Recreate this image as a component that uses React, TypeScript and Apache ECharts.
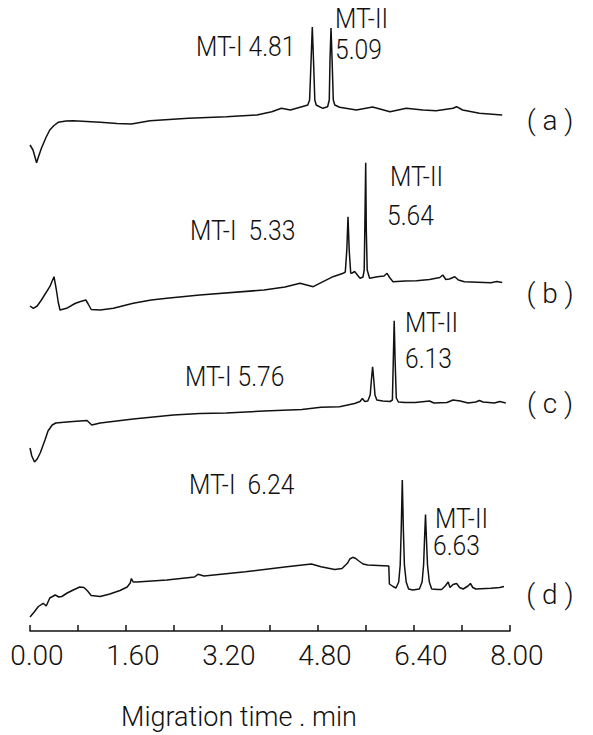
import React, { useEffect, useRef } from 'react';
import * as echarts from 'echarts';

// Migration time (min) vs detector response (stacked, arbitrary units)
const traceA: [number, number][] = [
  [0, 486], [0.05, 481], [0.11, 468.3], [0.14, 474], [0.19, 482.7], [0.27, 494], [0.33, 501],
  [0.4, 505.5], [0.47, 508.7], [0.6, 510], [0.72, 510.3], [1.17, 508.7], [1.45, 507.5], [1.69, 507],
  [2.0, 510.3], [2.64, 512.7], [3.27, 514.3], [3.78, 516], [4.03, 519.3], [4.19, 522.7], [4.34, 521],
  [4.53, 524.3], [4.63, 526], [4.66, 531], [4.685, 571], [4.705, 604], [4.725, 571], [4.747, 531],
  [4.77, 526], [4.88, 522.7], [4.96, 524.3], [4.988, 531], [5.0, 571], [5.017, 603], [5.035, 571],
  [5.055, 531], [5.08, 526], [5.16, 523.7], [5.44, 521], [5.71, 524], [6.0, 519.3], [6.27, 522.7],
  [6.55, 521], [6.77, 520.3], [7.05, 522.7], [7.11, 524.3], [7.21, 521], [7.49, 517.7], [7.87, 516],
];

const traceB: [number, number][] = [
  [0, 325], [0.055, 322.7], [0.12, 325], [0.19, 331], [0.33, 344.3], [0.4, 354.3], [0.44, 341],
  [0.47, 329], [0.5, 321], [0.61, 322.7], [0.75, 327.5], [0.83, 329.3], [0.93, 331], [0.97, 327],
  [1.02, 321.5], [1.17, 321], [1.39, 322.7], [1.72, 327.7], [2.02, 331], [2.28, 332.7], [2.83, 336],
  [3.9, 341], [4.25, 344], [4.5, 347.7], [4.72, 344.3], [5.05, 354.3], [5.22, 357.7], [5.255, 359],
  [5.28, 381], [5.3, 414.3], [5.32, 381], [5.345, 358], [5.36, 357.7], [5.41, 359.5], [5.5, 352.7],
  [5.55, 354], [5.57, 361], [5.58, 401], [5.595, 468.3], [5.605, 401], [5.62, 361], [5.66, 352.7],
  [5.79, 354.3], [5.9, 355], [5.95, 357.7], [6.0, 353], [6.05, 349.3], [6.25, 350], [6.44, 350.3],
  [6.66, 351.5], [6.83, 353.5], [6.88, 356], [6.93, 351.5], [6.99, 352], [7.08, 354.3], [7.14, 351],
  [7.24, 349.3], [7.68, 348.3], [7.78, 349.5], [7.87, 348.5],
];

const traceC: [number, number][] = [
  [0, 183], [0.03, 175], [0.075, 169], [0.12, 172], [0.17, 178], [0.25, 191], [0.3, 200],
  [0.37, 206], [0.43, 208], [0.61, 209], [0.83, 210], [0.95, 210.5], [1.03, 206], [1.17, 208],
  [1.72, 212], [2.39, 216], [2.83, 217.5], [3.27, 218], [3.9, 220], [4.53, 221.5], [4.85, 223.7],
  [5.16, 224.3], [5.41, 227.5], [5.5, 229.5], [5.54, 232.5], [5.58, 229.5], [5.63, 230], [5.67, 236],
  [5.69, 251], [5.71, 264.3], [5.73, 251], [5.75, 236], [5.78, 231], [5.88, 230], [6.0, 229.5],
  [6.04, 231], [6.055, 271], [6.07, 310.3], [6.085, 271], [6.105, 233], [6.14, 229], [6.25, 228.5],
  [6.42, 228.5], [6.66, 230], [6.73, 228], [6.95, 228.5], [7.05, 231], [7.17, 230], [7.3, 228],
  [7.43, 229], [7.49, 230.5], [7.55, 229], [7.74, 228], [7.83, 229.5], [7.93, 228],
];

const traceD: [number, number][] = [
  [0, 14], [0.07, 19], [0.14, 24.5], [0.22, 27.7], [0.27, 25], [0.33, 33], [0.42, 36], [0.48, 34],
  [0.53, 34.5], [0.62, 38], [0.72, 41], [0.83, 44], [0.9, 43.5], [0.96, 40], [1.02, 35.5],
  [1.17, 34.5], [1.33, 37], [1.5, 40.5], [1.62, 44], [1.67, 48], [1.69, 52.5], [1.72, 49],
  [1.78, 49], [2.28, 51], [2.74, 54], [2.8, 56.7], [2.9, 55], [3.59, 59.3], [4.28, 64.3],
  [4.69, 67], [4.85, 64.3], [5.08, 61.5], [5.2, 62.5], [5.29, 67.7], [5.33, 72], [5.38, 73.7],
  [5.43, 72.5], [5.47, 70.5], [5.55, 67], [5.63, 66], [5.98, 65], [5.99, 47], [6.05, 44.5],
  [6.1, 43], [6.145, 49], [6.17, 66], [6.187, 101], [6.205, 151], [6.223, 101], [6.24, 66],
  [6.27, 49], [6.31, 42], [6.38, 41], [6.49, 42], [6.535, 49], [6.56, 66], [6.575, 91],
  [6.592, 116.5], [6.608, 91], [6.625, 66], [6.655, 49], [6.695, 42], [6.8, 41.5], [6.86, 41.5],
  [6.92, 45], [6.97, 49], [7.0, 43.5], [7.05, 46.5], [7.11, 47.5], [7.16, 43.5], [7.22, 42],
  [7.3, 45], [7.34, 47.5], [7.38, 43.5], [7.43, 42], [7.68, 42.7], [7.83, 43.5], [7.9, 44.5],
];

const traces = [traceA, traceB, traceC, traceD];
const traceNames = ['( a )', '( b )', '( c )', '( d )'];
const peakNames = ['MT-I', 'MT-II'];
const peakTimes = [
  ['4.81', '5.09'],
  ['5.33', '5.64'],
  ['5.76', '6.13'],
  ['6.24', '6.63'],
];
const tickLabels = ['0.00', '1.60', '3.20', '4.80', '6.40', '8.00'];
const axisTitle = 'Migration time . min';

const FONT = 'Roboto, "Open Sans", "DejaVu Sans", sans-serif';
const INK = '#111111';

export default function App() {
  const ref = useRef<HTMLDivElement>(null);

  useEffect(() => {
    document.body.style.margin = '0';
    const chart = echarts.init(ref.current!, null, { renderer: 'svg' });

    const txt = (text: string, x: number, y: number, align = 'left', sx = 0.88) => ({
      type: 'text',
      x,
      y,
      scaleX: sx,
      silent: true,
      style: {
        text,
        fill: INK,
        fontSize: 28,
        fontFamily: FONT,
        fontWeight: 300,
        align,
        verticalAlign: 'middle',
      },
    });

    const graphics = [
      txt(`${peakNames[0]} ${peakTimes[0][0]}`, 196, 46),
      txt(peakNames[1], 335, 18),
      txt(peakTimes[0][1], 335, 49),
      txt(`${peakNames[0]}  ${peakTimes[1][0]}`, 190, 230),
      txt(peakNames[1], 390, 176),
      txt(peakTimes[1][1], 387, 215),
      txt(`${peakNames[0]} ${peakTimes[2][0]}`, 185, 376),
      txt(peakNames[1], 405, 322),
      txt(peakTimes[2][1], 405, 358),
      txt(`${peakNames[0]}  ${peakTimes[3][0]}`, 189, 484),
      txt(peakNames[1], 435, 518),
      txt(peakTimes[3][1], 433, 545),
      txt(traceNames[0], 550, 120, 'center', 1),
      txt(traceNames[1], 550, 293, 'center', 1),
      txt(traceNames[2], 550, 403, 'center', 1),
      txt(traceNames[3], 550, 594, 'center', 1),
    ];

    chart.setOption({
      animation: false,
      backgroundColor: '#ffffff',
      grid: { left: 30, right: 83, top: 0, bottom: 104, containLabel: false, outerBoundsMode: 'none' },
      xAxis: {
        type: 'value',
        min: 0,
        max: 8,
        interval: 0.8,
        name: axisTitle,
        nameLocation: 'middle',
        nameGap: 72,
        nameTextStyle: {
          fontSize: 27,
          fontFamily: FONT,
          fontWeight: 300,
          color: INK,
          padding: [0, 62, 0, 0],
        },
        axisLine: { show: true, onZero: false, lineStyle: { color: INK, width: 1.5 } },
        axisTick: { show: true, inside: true, length: 6, lineStyle: { color: INK, width: 1.5 } },
        splitLine: { show: false },
        axisLabel: {
          margin: 10,
          fontSize: 28,
          fontFamily: FONT,
          fontWeight: 300,
          color: INK,
          padding: [0, 0, 0, 14],
          formatter: (v: number) => {
            const k = Math.round(v / 1.6);
            return Math.abs(v - k * 1.6) < 1e-6 ? tickLabels[k] : '';
          },
        },
      },
      yAxis: { type: 'value', min: 0, max: 631, show: false },
      series: traces.map((d, i) => ({
        type: 'line',
        name: traceNames[i],
        data: d,
        showSymbol: false,
        symbol: 'none',
        lineStyle: { color: INK, width: 1.5 },
        silent: true,
      })),
      graphic: graphics,
    });

    return () => chart.dispose();
  }, []);

  return <div ref={ref} style={{ width: 593, height: 735, position: 'absolute', left: 0, top: 0 }} />;
}
